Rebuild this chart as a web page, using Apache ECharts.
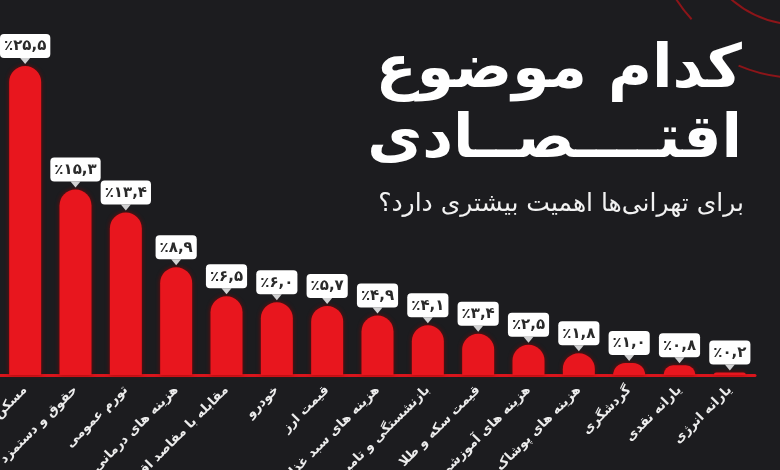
<!DOCTYPE html>
<html>
<head>
<meta charset="utf-8">
<script src="https://cdn.jsdelivr.net/npm/echarts@6/dist/echarts.min.js"></script>
<style>
html,body{margin:0;padding:0;background:#1c1c1f;}
#c{width:780px;height:470px;}
</style>
</head>
<body>
<div id="c"></div>
<script>
const categories = [
  'مسکن',
  'حقوق و دستمزد',
  'تورم عمومی',
  'هزینه های درمانی',
  'مقابله با مفاصد اقتصادی',
  'خودرو',
  'قیمت ارز',
  'هزینه های سبد غذایی',
  'بازنشستگی و تامین اجتماعی',
  'قیمت سکه و طلا',
  'هزینه های آموزشی',
  'هزینه های پوشاک',
  'گردشگری',
  'یارانه نقدی',
  'یارانه انرژی'
];
const values = [25.5, 15.3, 13.4, 8.9, 6.5, 6.0, 5.7, 4.9, 4.1, 3.4, 2.5, 1.8, 1.0, 0.8, 0.2];
const titleText = 'کدام موضوع\nاقتــــصــادی';
const subtitleText = 'برای تهرانی‌ها اهمیت بیشتری دارد؟';

const faDigits = '۰۱۲۳۴۵۶۷۸۹';
function toFa(v) {
  return '٪' + v.toFixed(1).replace('.', ',').replace(/\d/g, d => faDigits[d]);
}

const FONT = 'DejaVu Sans';
const chart = echarts.init(document.getElementById('c'));
chart.setOption({
  backgroundColor: '#1c1c1f',
  animation: false,
  title: [{
    text: titleText,
    left: 737, top: 31,
    textAlign: 'right',
    textStyle: { color: '#ffffff', fontSize: 60, fontWeight: 'bold', fontFamily: FONT, lineHeight: 70 }
  }, {
    text: subtitleText,
    left: 739, top: 187,
    textAlign: 'right',
    textStyle: { color: '#f2f2f2', fontSize: 25, fontWeight: 'normal', fontFamily: FONT }
  }],
  graphic: [
    { type: 'arc', z: -1, shape: { cx: 800, cy: -80, r: 147, startAngle: 2.40, endAngle: 2.62 }, style: { stroke: '#8c1519', lineWidth: 2, fill: null } },
    { type: 'arc', z: -1, shape: { cx: 800, cy: -80, r: 105, startAngle: 1.72, endAngle: 2.30 }, style: { stroke: '#8c1519', lineWidth: 2, fill: null } },
    { type: 'arc', z: -1, shape: { cx: 800, cy: -80, r: 158, startAngle: 1.62, endAngle: 1.97 }, style: { stroke: '#8c1519', lineWidth: 2, fill: null } }
  ],
  grid: { left: 0, right: 25, top: 66, bottom: 95, containLabel: false, outerBoundsMode: 'none' },
  xAxis: {
    type: 'category',
    data: categories,
    axisLine: { show: true, lineStyle: { color: '#d9151c', width: 3 } },
    axisTick: { show: false },
    axisLabel: {
      interval: 0, rotate: 45, margin: 13,
      color: '#ececec', fontSize: 13, fontWeight: 'bold', fontFamily: FONT
    }
  },
  yAxis: {
    type: 'value', min: 0, max: 25.5,
    show: false, splitLine: { show: false }
  },
  series: [{
    type: 'bar',
    data: values,
    barWidth: 32,
    itemStyle: {
      color: '#e8161e',
      borderRadius: [16, 16, 0, 0],
      shadowColor: 'rgba(150,0,0,0.8)', shadowBlur: 4
    },
    label: {
      show: true, position: 'top', distance: 8,
      formatter: p => toFa(p.value),
      backgroundColor: '#ffffff', borderRadius: 4,
      padding: [5, 4, 4, 4],
      color: '#2a2a2a', fontSize: 15, fontWeight: 'bold', fontFamily: FONT
    }
  }, {
    type: 'scatter',
    data: values,
    symbol: 'path://M0,0 L10,0 L5,6 Z',
    symbolSize: [10, 6],
    symbolOffset: [0, -5],
    itemStyle: { color: '#ffffff' },
    silent: true, z: 3
  }]
});
</script>
</body>
</html>
